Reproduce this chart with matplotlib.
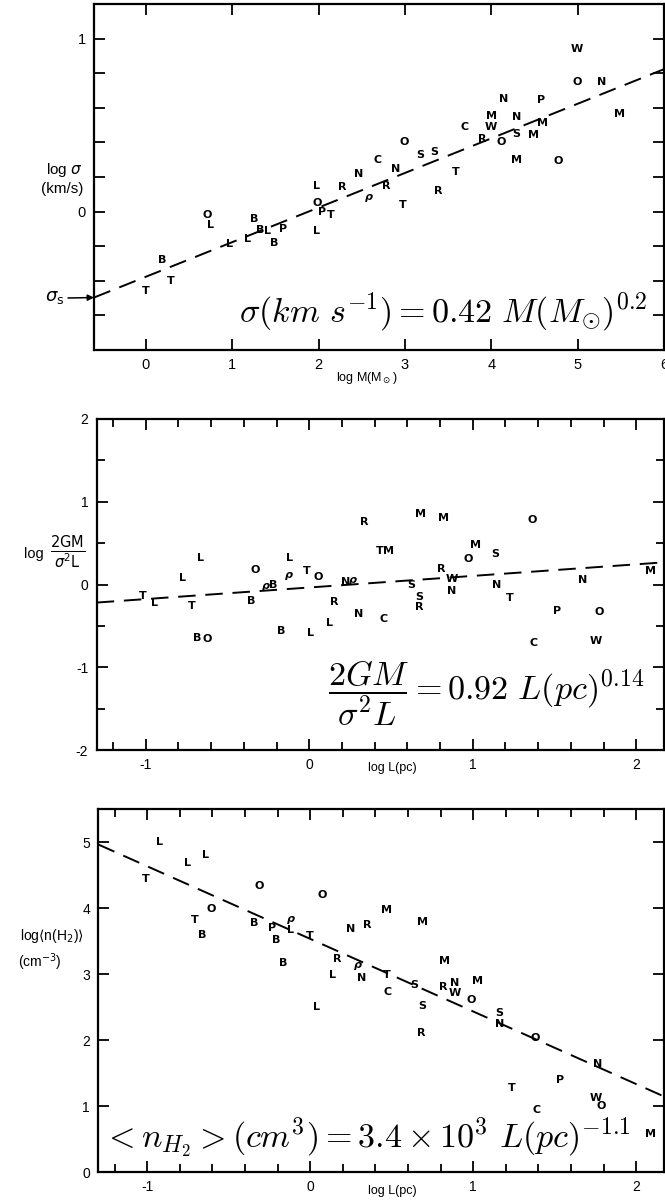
import numpy as np
import matplotlib
matplotlib.use("Agg")
import matplotlib.pyplot as plt

plt.rcParams['font.family'] = ['Liberation Sans', 'DejaVu Sans']
plt.rcParams['mathtext.fontset'] = 'cm'

# ---- Panel 1: velocity dispersion vs. mass ----
p1_lab = ['T', 'B', 'T', 'O', 'L', 'L', 'L', 'B', 'B', 'L', 'P', 'B',
          'L', 'O', 'P', 'T', 'L', 'R', 'N', 'ρ', 'C', 'R', 'N', 'O', 'T',
          'S', 'S', 'R', 'T', 'C', 'R', 'M', 'W', 'O', 'N', 'N', 'S', 'M',
          'M', 'M', 'P', 'O', 'O', 'W', 'N', 'M']
p1_logM = [0.00, 0.19, 0.285, 0.71, 0.75, 0.97, 1.18, 1.25, 1.33, 1.41, 1.59, 1.49,
           1.98, 1.98, 2.04, 2.14, 1.98, 2.28, 2.46, 2.58, 2.68, 2.78, 2.89, 2.99, 2.98,
           3.18, 3.34, 3.39, 3.59, 3.69, 3.90, 4.00, 4.00, 4.12, 4.14, 4.29, 4.29, 4.29,
           4.49, 4.59, 4.58, 4.77, 4.99, 4.99, 5.28, 5.48]
p1_logsig = [-0.46, -0.28, -0.40, -0.02, -0.08, -0.19, -0.16, -0.04, -0.105, -0.115, -0.10, -0.18,
             0.15, 0.05, 0.00, -0.02, -0.115, 0.145, 0.22, 0.087, 0.30, 0.15, 0.245, 0.40, 0.04,
             0.327, 0.342, 0.12, 0.23, 0.49, 0.42, 0.55, 0.487, 0.404, 0.648, 0.544, 0.448, 0.298,
             0.44, 0.513, 0.644, 0.29, 0.75, 0.937, 0.75, 0.563]
p1_coef, p1_slope = 0.42, 0.2

# ---- Panel 2: virial parameter vs. size ----
p2_lab = ['T', 'L', 'L', 'L', 'T', 'B', 'O', 'O', 'B', 'ρ', 'B', 'B', 'L', 'ρ',
          'T', 'O', 'L', 'L', 'R', 'N', 'ρ', 'N', 'R', 'T', 'M', 'C', 'S', 'S',
          'R', 'M', 'M', 'R', 'W', 'N', 'O', 'M', 'S', 'N', 'T', 'O', 'C', 'P',
          'N', 'O', 'W', 'M']
p2_logL = [-1.018, -0.946, -0.777, -0.666, -0.718, -0.687, -0.622, -0.329, -0.355, -0.267, -0.22, -0.174, -0.122, -0.122,
           -0.018, 0.057, 0.008, 0.124, 0.15, 0.22, 0.27, 0.30, 0.337, 0.433, 0.484, 0.453, 0.627, 0.674,
           0.674, 0.679, 0.82, 0.81, 0.873, 0.868, 0.97, 1.018, 1.14, 1.148, 1.225, 1.365, 1.373, 1.516,
           1.671, 1.775, 1.75, 2.085]
p2_logvir = [-0.145, -0.22, 0.077, 0.32, -0.255, -0.646, -0.66, 0.18, -0.194, -0.02, -0.01, -0.56, 0.32, 0.11,
             0.158, 0.09, -0.586, -0.47, -0.214, 0.036, 0.057, -0.356, 0.756, 0.404, 0.404, -0.416, -0.012, -0.154,
             -0.267, 0.85, 0.804, 0.19, 0.069, -0.073, 0.31, 0.473, 0.372, -0.004, -0.166, 0.776, -0.711, -0.315,
             0.06, -0.327, -0.687, 0.162]
p2_coef, p2_slope = 0.92, 0.14

# ---- Panel 3: mean density vs. size ----
p3_lab = ['L', 'L', 'L', 'T', 'O', 'O', 'T', 'B', 'O', 'B', 'P', 'ρ', 'L', 'B',
          'T', 'B', 'M', 'N', 'R', 'M', 'R', 'ρ', 'L', 'N', 'T', 'C', 'S', 'L',
          'S', 'R', 'M', 'R', 'N', 'W', 'M', 'O', 'S', 'N', 'O', 'N', 'T', 'P',
          'C', 'W', 'O', 'M']
p3_logL = [-0.927, -0.753, -0.644, -1.008, -0.312, -0.61, -0.709, -0.662, 0.073, -0.345, -0.234, -0.117, -0.122, -0.208,
           -0.005, -0.164, 0.468, 0.247, 0.351, 0.688, 0.164, 0.294, 0.135, 0.312, 0.468, 0.475, 0.636, 0.039,
           0.688, 0.683, 0.826, 0.818, 0.883, 0.888, 1.026, 0.987, 1.161, 1.161, 1.377, 1.761, 1.239, 1.532,
           1.39, 1.753, 1.787, 2.09]
p3_logn = [5.00, 4.68, 4.81, 4.44, 4.33, 3.99, 3.82, 3.59, 4.20, 3.77, 3.70, 3.84, 3.67, 3.52,
           3.58, 3.17, 3.97, 3.68, 3.74, 3.79, 3.22, 3.14, 2.98, 2.94, 2.99, 2.73, 2.84, 2.50,
           2.51, 2.11, 3.19, 2.81, 2.87, 2.71, 2.90, 2.61, 2.41, 2.24, 2.03, 1.64, 1.28, 1.39,
           0.94, 1.12, 1.00, 0.57]
p3_coef, p3_slope = 3.4e3, -1.1

W, H = 665, 1202
EQ_SIZE = 24.5
fig = plt.figure(figsize=(W / 100, H / 100), dpi=100)


def box(left, top, right, bottom):
    return [left / W, 1 - bottom / H, (right - left) / W, (bottom - top) / H]


def fpos(x, y):
    return x / W, 1 - y / H


def style(ax, labelsize=10):
    for s in ax.spines.values():
        s.set_linewidth(1.6)
    ax.tick_params(which='both', direction='in', top=True, right=True,
                   width=1.3, labelsize=labelsize, pad=6)
    ax.tick_params(which='major', length=8)
    ax.tick_params(which='minor', length=6)


def letters(ax, lab, xs, ys):
    for s, x, y in zip(lab, xs, ys):
        ax.text(x, y, s, ha='center', va='center', fontsize=8,
                fontweight='bold', style='italic' if s == 'ρ' else 'normal',
                family=['DejaVu Sans'])


def fitline(ax, coef, slope, xlim):
    xx = np.linspace(xlim[0], xlim[1], 200)
    ax.plot(xx, np.log10(coef) + slope * xx, color='black', lw=1.4,
            dashes=(9, 5), zorder=1)


# Panel 1
ax1 = fig.add_axes(box(94, 4, 664, 350))
xl1 = (-0.6, 6.0)
ax1.set_xlim(*xl1)
ax1.set_ylim(-0.8, 1.2)
style(ax1, 10.5)
ax1.set_xticks(range(0, 7))
ax1.set_xticklabels(['0', '1', '2', '3', '4', '5', '6'])
yt = np.round(np.arange(-0.8, 1.201, 0.2), 1)
ax1.set_yticks(yt)
ax1.set_yticklabels(['0' if v == 0 else ('1' if v == 1 else '') for v in yt])
fitline(ax1, p1_coef, p1_slope, xl1)
letters(ax1, p1_lab, p1_logM, p1_logsig)
ax1.text(0.972, 0.11, r'$\sigma(km\ s^{-1}) = 0.42\ M(M_{\odot})^{0.2}$',
         transform=ax1.transAxes, ha='right', va='center', fontsize=EQ_SIZE)
fig.text(*fpos(367, 378), r'log M(M$_\odot$)', ha='center', va='center',
         fontsize=9, math_fontfamily='dejavusans')
fig.text(*fpos(64, 170), r'log $\sigma$', ha='center', va='center',
         fontsize=11, math_fontfamily='dejavusans')
fig.text(*fpos(62, 189), '(km/s)', ha='center', va='center', fontsize=11)
fig.text(*fpos(55, 298), r'$\sigma_{\mathsf{s}}$', ha='center', va='center',
         fontsize=13, math_fontfamily='dejavusans')
sig_s = np.log10(p1_coef) + p1_slope * xl1[0]
ax1.annotate('', xy=(xl1[0], sig_s), xycoords='data',
             xytext=(68, H - 298), textcoords='figure pixels',
             arrowprops=dict(arrowstyle='-|>', color='black', lw=1.1,
                             mutation_scale=9, shrinkA=0, shrinkB=0),
             annotation_clip=False)

# Panel 2
ax2 = fig.add_axes(box(96.7, 419, 664, 750))
xl2 = (-1.3, 2.17)
ax2.set_xlim(*xl2)
ax2.set_ylim(-2, 2)
style(ax2)
ax2.set_xticks([-1, 0, 1, 2])
ax2.set_xticklabels(['-1', '0', '1', '2'])
ax2.set_xticks(np.arange(-1.2, 2.17, 0.2), minor=True)
ax2.set_yticks([-2, -1, 0, 1, 2])
ax2.set_yticklabels(['-2', '-1', '0', '1', '2'])
ax2.set_yticks([-1.5, -0.5, 0.5, 1.5], minor=True)
fitline(ax2, p2_coef, p2_slope, xl2)
letters(ax2, p2_lab, p2_logL, p2_logvir)
ax2.text(0.686, 0.172, r'$\dfrac{2GM}{\sigma^2 L} = 0.92\ L(pc)^{0.14}$',
         transform=ax2.transAxes, ha='center', va='center', fontsize=EQ_SIZE)
fig.text(*fpos(392, 768), 'log L(pc)', ha='center', va='center', fontsize=9)
fig.text(*fpos(34, 554), 'log', ha='center', va='center', fontsize=10.5)
fig.text(*fpos(68, 552), r'$\frac{\mathsf{2GM}}{\sigma^2\mathsf{L}}$', ha='center',
         va='center', fontsize=15, math_fontfamily='dejavusans')

# Panel 3
ax3 = fig.add_axes(box(98.4, 809, 664, 1172))
ax3.set_xlim(*xl2)
ax3.set_ylim(0, 5.5)
style(ax3)
ax3.set_xticks([-1, 0, 1, 2])
ax3.set_xticklabels(['-1', '0', '1', '2'])
ax3.set_xticks(np.arange(-1.2, 2.17, 0.2), minor=True)
ax3.set_yticks([0, 1, 2, 3, 4, 5])
fitline(ax3, p3_coef, p3_slope, xl2)
letters(ax3, p3_lab, p3_logL, p3_logn)
ax3.text(0.475, 0.096,
         r'$< n_{H_2} > (cm^3) = 3.4 \times 10^3\ L(pc)^{-1.1}$',
         transform=ax3.transAxes, ha='center', va='center', fontsize=EQ_SIZE)
fig.text(*fpos(392, 1191), 'log L(pc)', ha='center', va='center', fontsize=9)
fig.text(*fpos(52, 936), r'log$\langle$n(H$_2$)$\rangle$', ha='center',
         va='center', fontsize=10, math_fontfamily='dejavusans')
fig.text(*fpos(40, 962), r'(cm$^{-3}$)', ha='center', va='center',
         fontsize=10, math_fontfamily='dejavusans')

fig.savefig('out.png', dpi=100)
